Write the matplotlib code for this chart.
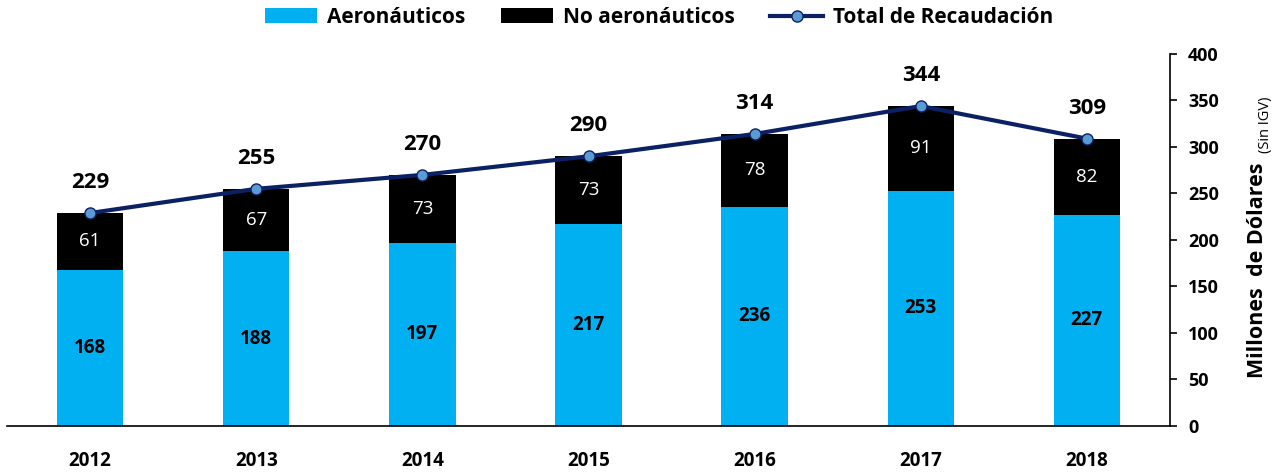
import numpy as np
import pandas as pd
import matplotlib.pyplot as plt

# Set the fonts used for every text in the chart
plt.rcParams['font.family'] = ['Open Sans', 'DejaVu Sans']

# Revenue data (millions of USD, without IGV)
data = pd.DataFrame({
    'Year': ['2012', '2013', '2014', '2015', '2016', '2017', '2018'],
    'Aeronauticos': [168, 188, 197, 217, 236, 253, 227],
    'NoAeronauticos': [61, 67, 73, 73, 78, 91, 82],
    'Total': [229, 255, 270, 290, 314, 344, 309],
})

x = np.arange(len(data))
bar_width = 0.4

# Colours
blue = '#00B0F0'
navy = '#0B2163'
marker_blue = '#5B9BD5'

fig = plt.figure(figsize=(12.82, 4.72), dpi=100)
ax = fig.add_subplot(111)
fig.subplots_adjust(left=0.0055, right=0.9126, bottom=0.0975, top=0.8856)

# Stacked bars
bars_aero = ax.bar(x, data['Aeronauticos'], width=bar_width, color=blue, label='Aeronáuticos')
bars_no = ax.bar(x, data['NoAeronauticos'], width=bar_width, bottom=data['Aeronauticos'],
                 color='black', label='No aeronáuticos')

# Total line with markers
line, = ax.plot(x, data['Total'], color=navy, linewidth=3, marker='o', markersize=8,
                markerfacecolor=marker_blue, markeredgecolor=navy, markeredgewidth=1,
                label='Total de Recaudación', zorder=3)

# Labels inside the bars
for i, row in data.iterrows():
    ax.text(i, row['Aeronauticos'] / 2, str(row['Aeronauticos']), ha='center', va='center',
            fontsize=13.5, fontweight='bold', color='black')
    ax.text(i, row['Aeronauticos'] + row['NoAeronauticos'] / 2, str(row['NoAeronauticos']),
            ha='center', va='center', fontsize=13.5, color='white')
    ax.annotate(str(row['Total']), (i, row['Total']), xytext=(0, 22), textcoords='offset points',
                ha='center', va='center', fontsize=16, fontweight='bold', color='black')

# Axes settings
ax.set_xlim(-0.5, 6.5)
ax.set_ylim(0, 400)
ax.set_xticks(x)
ax.set_xticklabels(data['Year'], fontsize=13.5, fontweight='bold')
ax.tick_params(axis='x', length=0, pad=18)

ax.yaxis.tick_right()
ax.set_yticks(np.arange(0, 401, 50))
ax.set_yticklabels([str(v) for v in range(0, 401, 50)], fontsize=13, fontweight='bold')
ax.tick_params(axis='y', direction='out', length=5, width=1.2, pad=8)

for side in ['top', 'left']:
    ax.spines[side].set_visible(False)
ax.spines['right'].set_linewidth(1.2)
ax.spines['bottom'].set_linewidth(1.2)

# Y label on the right side
fig.text(0.9805, 0.199, 'Millones  de Dólares', rotation=90, ha='center', va='bottom',
         fontsize=15.5, fontweight='bold')
fig.text(0.9870, 0.675, '(Sin IGV)', rotation=90, ha='center', va='bottom', fontsize=10.5)

# Legend on top
fig.legend(handles=[bars_aero, bars_no, line], loc='center', bbox_to_anchor=(0.514, 0.963),
           ncol=3, frameon=False, prop={'weight': 'bold', 'size': 15},
           handlelength=2.5, columnspacing=1.7, handletextpad=0.5)

# Save the plot
plt.savefig('out.png', dpi=100)
plt.close()
